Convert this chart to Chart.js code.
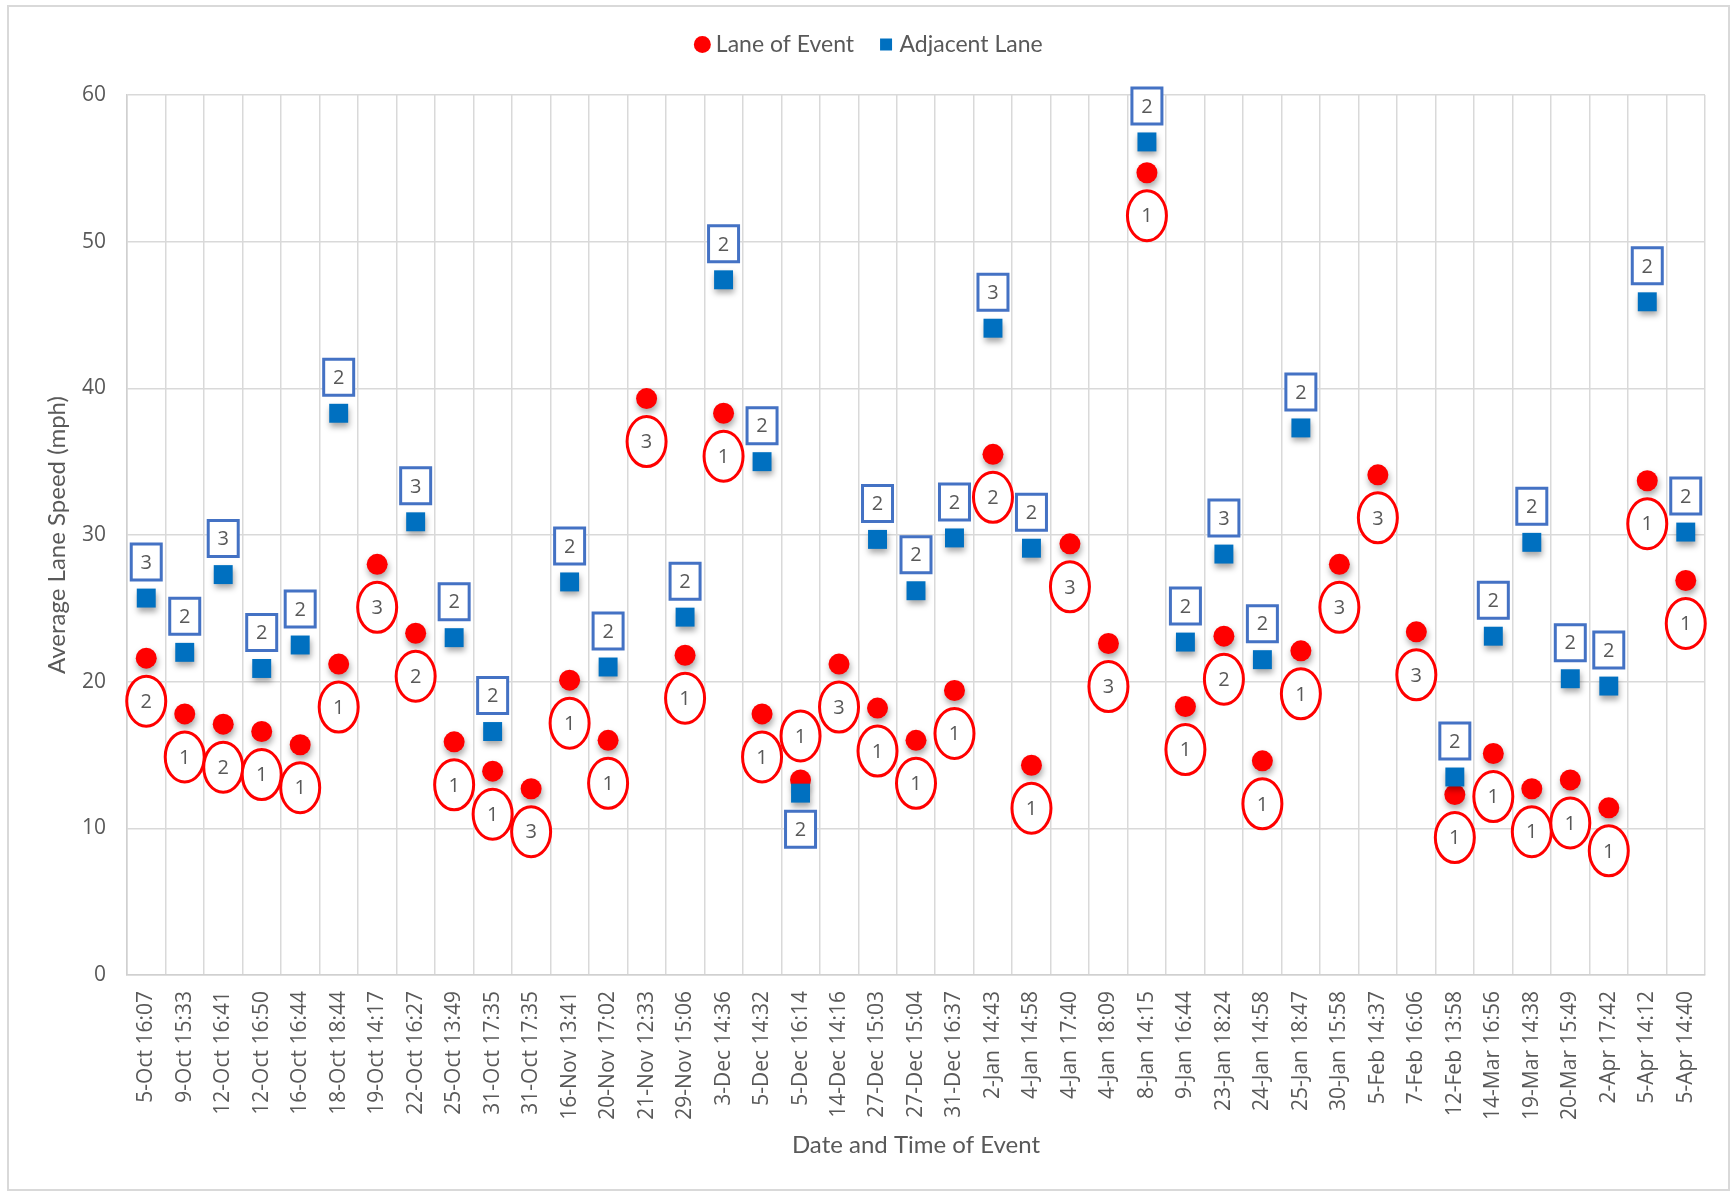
<!DOCTYPE html>
<html>
<head>
<meta charset="utf-8">
<script src="https://cdn.jsdelivr.net/npm/chart.js@4.4.1/dist/chart.umd.min.js"></script>
<style>
  html, body { margin: 0; padding: 0; background: #fff; }
  #wrap { position: relative; width: 1732px; height: 1191px; overflow: hidden; }
  #frame { position: absolute; left: 7px; top: 5px; width: 1719px; height: 1182px; border: 2px solid #d9d9d9; }
  canvas { position: absolute; left: 0; top: 0; }
</style>
</head>
<body>
<div id="wrap">
  <div id="frame"></div>
  <canvas id="chart" width="1732" height="1191"></canvas>
</div>
<script>
"use strict"

const eventTimes = [
  "5-Oct 16:07", "9-Oct 15:33", "12-Oct 16:41", "12-Oct 16:50", "16-Oct 16:44",
  "18-Oct 18:44", "19-Oct 14:17", "22-Oct 16:27", "25-Oct 13:49", "31-Oct 17:35",
  "31-Oct 17:35", "16-Nov 13:41", "20-Nov 17:02", "21-Nov 12:33", "29-Nov 15:06",
  "3-Dec 14:36", "5-Dec 14:32", "5-Dec 16:14", "14-Dec 14:16", "27-Dec 15:03",
  "27-Dec 15:04", "31-Dec 16:37", "2-Jan 14:43", "4-Jan 14:58", "4-Jan 17:40",
  "4-Jan 18:09", "8-Jan 14:15", "9-Jan 16:44", "23-Jan 18:24", "24-Jan 14:58",
  "25-Jan 18:47", "30-Jan 15:58", "5-Feb 14:37", "7-Feb 16:06", "12-Feb 13:58",
  "14-Mar 16:56", "19-Mar 14:38", "20-Mar 15:49", "2-Apr 17:42", "5-Apr 14:12",
  "5-Apr 14:40"
];

const laneOfEvent = [
  21.6, 17.8, 17.1, 16.6, 15.7, 21.2, 28.0, 23.3, 15.9, 13.9,
  12.7, 20.1, 16.0, 39.3, 21.8, 38.3, 17.8, 13.3, 21.2, 18.2,
  16.0, 19.4, 35.5, 14.3, 29.4, 22.6, 54.7, 18.3, 23.1, 14.6,
  22.1, 28.0, 34.1, 23.4, 12.3, 15.1, 12.7, 13.3, 11.4, 33.7,
  26.9
];

const adjacentLane = [
  25.7, 22.0, 27.3, 20.9, 22.5, 38.3, null, 30.9, 23.0, 16.6,
  null, 26.8, 21.0, null, 24.4, 47.4, 35.0, 12.4, null, 29.7,
  26.2, 29.8, 44.1, 29.1, null, null, 56.8, 22.7, 28.7, 21.5,
  37.3, null, null, null, 13.5, 23.1, 29.5, 20.2, 19.7, 45.9,
  30.2
];

// numbers written in the red ellipses / blue boxes
const eventLaneLabels = [
  2, 1, 2, 1, 1, 1, 3, 2, 1, 1,
  3, 1, 1, 3, 1, 1, 1, 1, 3, 1,
  1, 1, 2, 1, 3, 3, 1, 1, 2, 1,
  1, 3, 3, 3, 1, 1, 1, 1, 1, 1,
  1
];

const adjacentLaneLabels = [
  3, 2, 3, 2, 2, 2, null, 3, 2, 2,
  null, 2, 2, null, 2, 2, 2, 2, null, 2,
  2, 2, 3, 2, null, null, 2, 2, 3, 2,
  2, null, null, null, 2, 2, 2, 2, 2, 2,
  2
];

// events where the labels sit on the other side of the markers
const flippedLabels = ["5-Dec 16:14"];

const textGray = '#595959';
const gridGray = '#d9d9d9';

/////////////   Plugins   //////////////

const markerShadow = {
  id: 'markerShadow',
  beforeDatasetDraw(chart) {
    const ctx = chart.ctx;
    ctx.save();
    ctx.shadowColor = 'rgba(0, 0, 0, 0.35)';
    ctx.shadowBlur = 6;
    ctx.shadowOffsetX = 1;
    ctx.shadowOffsetY = 4;
  },
  afterDatasetDraw(chart) {
    chart.ctx.restore();
  }
};

const legendSpacer = {
  id: 'legendSpacer',
  beforeLayout(chart) {
    const legend = chart.legend;
    if (legend && !legend._spaced) {
      const fit = legend.fit;
      legend.fit = function () {
        fit.call(this);
        this.height += 29;
      };
      legend._spaced = true;
    }
  }
};

const laneLabels = {
  id: 'laneLabels',
  afterDatasetsDraw(chart) {
    const ctx = chart.ctx;
    const redPoints = chart.getDatasetMeta(0).data;
    const bluePoints = chart.getDatasetMeta(1).data;
    ctx.save();
    ctx.font = '20px "Open Sans"';
    ctx.textAlign = 'center';
    ctx.textBaseline = 'middle';
    ctx.lineWidth = 3;

    redPoints.forEach((pt, i) => {
      if (laneOfEvent[i] == null) return;
      const flip = flippedLabels.includes(eventTimes[i]);
      const y = pt.y + (flip ? -44 : 43);
      ctx.beginPath();
      ctx.ellipse(pt.x, y, 19.5, 25, 0, 0, Math.PI * 2);
      ctx.fillStyle = '#ffffff';
      ctx.fill();
      ctx.strokeStyle = '#ff0000';
      ctx.stroke();
      ctx.fillStyle = textGray;
      ctx.fillText(String(eventLaneLabels[i]), pt.x, y + 1);
    });

    bluePoints.forEach((pt, i) => {
      if (adjacentLane[i] == null || adjacentLaneLabels[i] == null) return;
      const flip = flippedLabels.includes(eventTimes[i]);
      const y = pt.y + (flip ? 36 : -36);
      ctx.beginPath();
      ctx.rect(pt.x - 15, y - 18, 30, 36);
      ctx.fillStyle = '#ffffff';
      ctx.fill();
      ctx.strokeStyle = '#4472c4';
      ctx.stroke();
      ctx.fillStyle = textGray;
      ctx.fillText(String(adjacentLaneLabels[i]), pt.x, y + 1);
    });
    ctx.restore();
  }
};

/////////////   Chart   //////////////

new Chart(document.getElementById('chart'), {
  type: 'line',
  data: {
    labels: eventTimes,
    datasets: [{
      label: 'Lane of Event',
      data: laneOfEvent,
      showLine: false,
      pointStyle: 'circle',
      pointRadius: 10.5,
      pointBackgroundColor: '#ff0000',
      backgroundColor: '#ff0000',
      borderColor: '#ff0000',
      pointBorderWidth: 0,
      clip: false,
      order: 1
    }, {
      label: 'Adjacent Lane',
      data: adjacentLane,
      showLine: false,
      pointStyle: 'rect',
      pointRadius: 13.4,
      pointBackgroundColor: '#0070c0',
      backgroundColor: '#0070c0',
      borderColor: '#0070c0',
      pointBorderWidth: 0,
      clip: false,
      order: 0
    }]
  },
  options: {
    responsive: false,
    animation: false,
    events: [],
    layout: {
      padding: { top: 3, left: 38, right: 27, bottom: 10 }
    },
    plugins: {
      tooltip: { enabled: false },
      legend: {
        display: true,
        position: 'top',
        labels: {
          sort: (a, b) => a.datasetIndex - b.datasetIndex,
          usePointStyle: true,
          boxWidth: 4,
          boxHeight: 12,
          padding: 30,
          color: textGray,
          font: { family: 'Lato', size: 23 }
        }
      }
    },
    scales: {
      x: {
        type: 'category',
        offset: true,
        grid: { offset: true, color: gridGray, lineWidth: 1.5, drawTicks: false },
        border: { color: '#d0d0d0', width: 1.5 },
        ticks: {
          autoSkip: false,
          minRotation: 90,
          maxRotation: 90,
          padding: 16,
          color: textGray,
          font: { family: 'Open Sans', size: 21 }
        },
        title: {
          display: true,
          text: 'Date and Time of Event',
          color: textGray,
          font: { family: 'Lato', size: 24 },
          padding: { top: 0, bottom: 21 }
        },
        afterFit: (scale) => { scale.height = 206; }
      },
      y: {
        min: 0,
        max: 60,
        grid: { color: gridGray, lineWidth: 1.5, drawTicks: false },
        border: { color: '#d0d0d0', width: 1.5 },
        ticks: {
          stepSize: 10,
          padding: 21,
          color: textGray,
          font: { family: 'Open Sans', size: 21 }
        },
        title: {
          display: true,
          text: 'Average Lane Speed (mph)',
          color: textGray,
          font: { family: 'Lato', size: 24 },
          padding: { top: 5, bottom: 0 }
        },
        afterFit: (scale) => { scale.width = 89; }
      }
    }
  },
  plugins: [markerShadow, legendSpacer, laneLabels]
});
</script>
</body>
</html>
